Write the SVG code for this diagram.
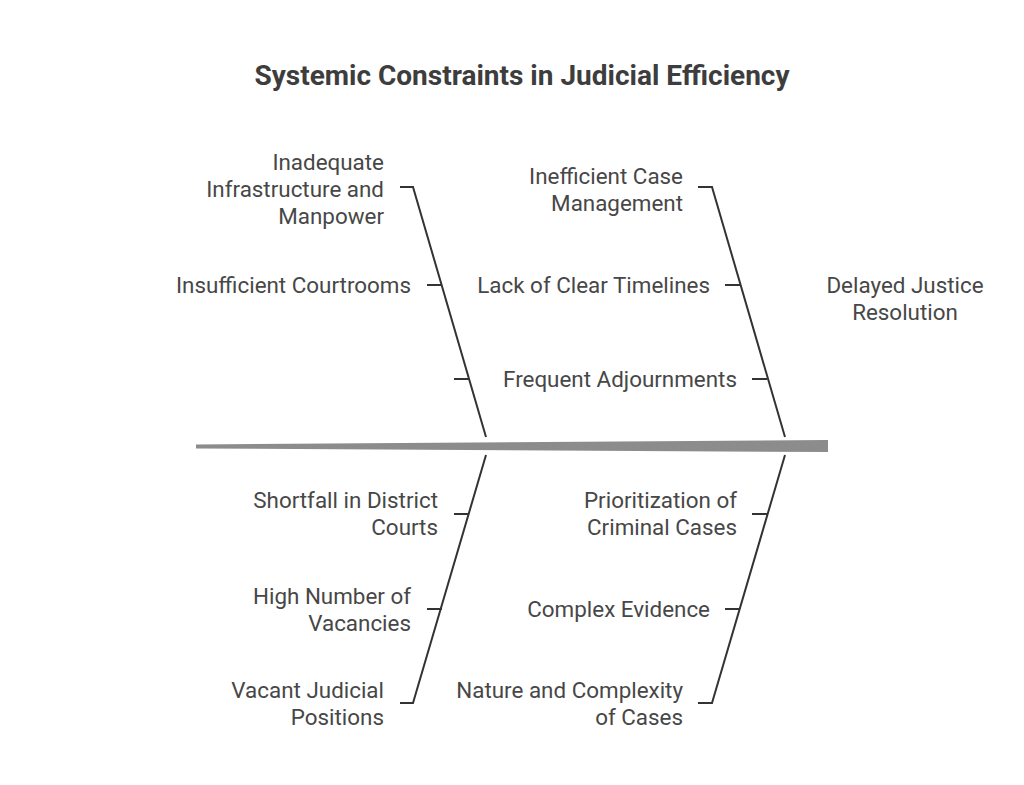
<svg xmlns="http://www.w3.org/2000/svg" width="1024" height="785" viewBox="0 0 1024 785">
<style>
.t{font-family:Roboto,"Liberation Sans",sans-serif;font-size:22.4px;fill:#474747;text-anchor:end}
.c{text-anchor:middle}
.title{font-family:Roboto,"Liberation Sans",sans-serif;font-size:28px;font-weight:bold;fill:#3d3d3d;text-anchor:middle}
.bone{fill:none;stroke:#333;stroke-width:2;stroke-linejoin:miter}
</style>
<rect width="1024" height="785" fill="#fff"/>
<text class="title" x="522" y="85">Systemic Constraints in Judicial Efficiency</text>
<g id="spine">
<polygon points="196,444.5 828,440 828,452 196,448.5" fill="#8c8c8c"/>
</g>
<g id="connectors">
<polyline class="bone" points="400,187 413,187 486,437"/>
<line class="bone" x1="427" y1="285" x2="442" y2="285"/>
<line class="bone" x1="454" y1="379" x2="469" y2="379"/>
<polyline class="bone" points="698,187 712,187 785,437"/>
<line class="bone" x1="725" y1="285" x2="740" y2="285"/>
<line class="bone" x1="752" y1="379" x2="767" y2="379"/>
<polyline class="bone" points="486,455 413,703 400,703"/>
<line class="bone" x1="454" y1="514" x2="469" y2="514"/>
<line class="bone" x1="427" y1="609" x2="442" y2="609"/>
<polyline class="bone" points="785,455 712,703 698,703"/>
<line class="bone" x1="752" y1="514" x2="767" y2="514"/>
<line class="bone" x1="725" y1="609" x2="740" y2="609"/>
</g>
<g id="effect"><text class="t c" x="905" y="293">Delayed Justice</text><text class="t c" x="905" y="320">Resolution</text></g>
<g id="cat-infrastructure"><text class="t" x="384" y="170">Inadequate</text><text class="t" x="384" y="197">Infrastructure and</text><text class="t" x="384" y="224">Manpower</text></g>
<g id="cause-courtrooms"><text class="t" x="411" y="293">Insufficient Courtrooms</text></g>
<g id="cat-case-management"><text class="t" x="683" y="184">Inefficient Case</text><text class="t" x="683" y="211">Management</text></g>
<g id="cause-timelines"><text class="t" x="710" y="293">Lack of Clear Timelines</text></g>
<g id="cause-adjournments"><text class="t" x="737" y="387">Frequent Adjournments</text></g>
<g id="cause-shortfall"><text class="t" x="438" y="508">Shortfall in District</text><text class="t" x="438" y="535">Courts</text></g>
<g id="cause-vacancies"><text class="t" x="411" y="604">High Number of</text><text class="t" x="411" y="631">Vacancies</text></g>
<g id="cat-vacant"><text class="t" x="384" y="698">Vacant Judicial</text><text class="t" x="384" y="725">Positions</text></g>
<g id="cause-prioritization"><text class="t" x="737" y="508">Prioritization of</text><text class="t" x="737" y="535">Criminal Cases</text></g>
<g id="cause-evidence"><text class="t" x="710" y="617">Complex Evidence</text></g>
<g id="cat-nature"><text class="t" x="683" y="698">Nature and Complexity</text><text class="t" x="683" y="725">of Cases</text></g>
</svg>
